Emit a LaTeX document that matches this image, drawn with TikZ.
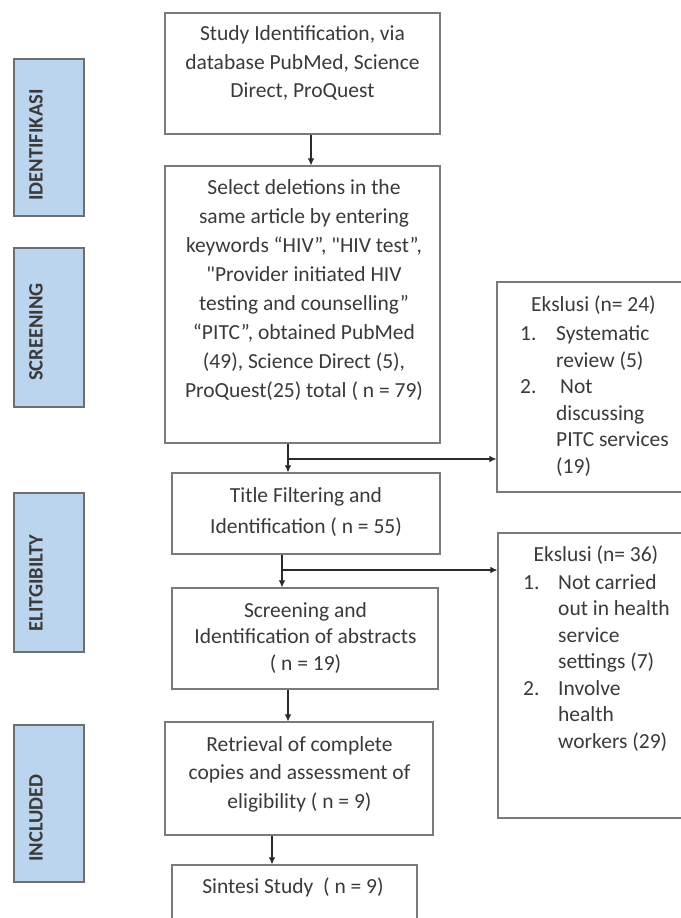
\documentclass[tikz,border=0pt]{standalone}
\usepackage{fontspec}
\setmainfont{Carlito}
\newfontfamily\plainq[Ligatures=ResetAll]{Carlito}
\usetikzlibrary{arrows.meta}
\definecolor{txtc}{HTML}{3A3A3A}
\definecolor{boxc}{HTML}{7A7A7A}
\definecolor{sidefill}{HTML}{BCD5EE}
\definecolor{sidedraw}{HTML}{6E6E6E}
\definecolor{linec}{HTML}{2A2A2A}
\newcommand{\sq}{{\plainq"}}
\begin{document}
\begin{tikzpicture}[x=1pt,y=-1pt,
  box/.style={draw=boxc,line width=1.2pt,inner sep=0pt,fill=white},
  side/.style={draw=sidedraw,line width=1.2pt,inner sep=0pt,fill=sidefill,minimum width=70pt},
  txt/.style={font=\fontsize{21.5}{28.5}\selectfont,text=txtc,align=center,inner sep=0pt},
  lst/.style={font=\fontsize{21.5}{26.5}\selectfont,text=txtc,align=left,inner sep=0pt},
  lab/.style={font=\bfseries\fontsize{20.5}{21}\selectfont,text=txtc,rotate=90,inner sep=0pt},
  arr/.style={draw=linec,line width=1.1pt,-{Latex[length=7pt,width=6.5pt]}}]
\useasboundingbox[fill=white] (0,0) rectangle (680,918);

% side bars
\node[side,minimum height=157pt] (s1) at (49,137.5) {};
\node[side,minimum height=159pt] (s2) at (49,327.5) {};
\node[side,minimum height=159pt] (s3) at (49,572.5) {};
\node[side,minimum height=157pt] (s4) at (49,803.5) {};
\node[lab] (l1) at (36,145) {IDENTIFIKASI};
\node[lab] (l2) at (36,332) {SCREENING};
\node[lab] (l3) at (36,583) {ELITGIBILTY};
\node[lab] (l4) at (36,818) {INCLUDED};

% main boxes
\node[box,minimum width=275pt,minimum height=121pt] (b1) at (302.5,73.5) {};
\node[box,minimum width=275pt,minimum height=277pt] (b2) at (302.5,304.5) {};
\node[box,minimum width=268pt,minimum height=81pt] (b3) at (306,513.5) {};
\node[box,minimum width=266pt,minimum height=101pt] (b4) at (305,638.5) {};
\node[box,minimum width=268pt,minimum height=113pt] (b5) at (299,778.5) {};
\node[box,minimum width=245pt,minimum height=75pt] (b6) at (294.5,902.5) {};

\node[txt] (t1) at (302.5,63) {Study Identification, via\\database PubMed, Science\\Direct, ProQuest};
\node[txt,font=\fontsize{21.5}{29}\selectfont] (t2) at (304,290) {Select deletions in the\\same article by entering\\keywords “HIV”, \sq HIV test”,\\\sq Provider initiated HIV\\testing and counselling”\\“PITC”, obtained PubMed\\(49), Science Direct (5),\\ProQuest(25) total ( n = 79)};
\node[txt,font=\fontsize{21.5}{31}\selectfont] (t3) at (306,512.5) {Title Filtering and\\Identification ( n = 55)};
\node[txt,font=\fontsize{21.5}{26.5}\selectfont] (t4) at (305.5,638) {Screening and\\Identification of abstracts\\( n = 19)};
\node[txt] (t5) at (299.5,774) {Retrieval of complete\\copies and assessment of\\eligibility ( n = 9)};
\node[txt] (t6) at (293,887) {Sintesi Study~ ( n = 9)};

% exclusion boxes
\node[box,minimum width=203pt,minimum height=210pt] (e1) at (598.5,387) {};
\node[box,minimum width=202pt,minimum height=285pt] (e2) at (599,675.5) {};
\node[txt] (h1) at (593.5,305) {Ekslusi (n= 24)};
\node[txt] (h2) at (596,555) {Ekslusi (n= 36)};
\node[lst,anchor=west] (x1) at (520,401) {\makebox[36pt][l]{1.}Systematic\\
\hspace*{36pt}review (5)\\
\makebox[36pt][l]{2.}\hspace*{4pt}Not\\
\hspace*{36pt}discussing\\
\hspace*{36pt}PITC services\\
\hspace*{36pt}(19)};
\node[lst,anchor=west] (x2) at (523,663) {\makebox[35pt][l]{1.}Not carried\\
\hspace*{35pt}out in health\\
\hspace*{35pt}service\\
\hspace*{35pt}settings (7)\\
\makebox[35pt][l]{2.}Involve\\
\hspace*{35pt}health\\
\hspace*{35pt}workers (29)};

% connectors
\draw[arr] ([xshift=8.5pt]b1.south) -- ([xshift=8.5pt]b2.north);
\draw[arr] ([xshift=-14.5pt]b2.south) -- ([xshift=-18pt]b3.north);
\coordinate (j1) at (288,459);
\draw[arr] (j1) -- (e1.west |- j1);
\draw[arr] ([xshift=-24pt]b3.south) -- ([xshift=-23pt]b4.north);
\coordinate (j2) at (282,570);
\draw[arr] (j2) -- (e2.west |- j2);
\draw[arr] ([xshift=-17pt]b4.south) -- ([xshift=-11pt]b5.north);
\draw[arr] ([xshift=-27pt]b5.south) -- ([xshift=-22.5pt]b6.north);
\end{tikzpicture}
\end{document}
